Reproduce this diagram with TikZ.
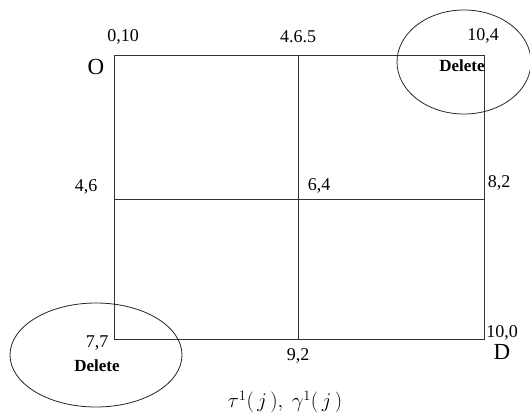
\documentclass[tikz,border=0pt]{standalone}
\usepackage{fontspec}
\setmainfont{Liberation Serif}
\usepackage{amsmath}
\usetikzlibrary{calc}

\begin{document}
\begin{tikzpicture}[x=1pt,y=-1pt,
  lbl/.style={font=\fontsize{18}{20}\selectfont,inner sep=0pt},
  pt/.style={font=\fontsize{23}{26}\selectfont,inner sep=0pt},
  del/.style={font=\fontsize{17}{19}\selectfont\bfseries,inner sep=0pt},
  grid/.style={line width=0.8pt,black!80},
  ring/.style={line width=0.8pt,black!85}]
\useasboundingbox (0,0) rectangle (530,416);
\def\xl{114}
\def\xm{298}
\def\xr{484}
\def\yt{55}
\def\ym{199}
\def\yb{339}
\coordinate (TL) at (\xl,\yt);
\coordinate (TM) at (\xm,\yt);
\coordinate (TR) at (\xr,\yt);
\coordinate (ML) at (\xl,\ym);
\coordinate (MM) at (\xm,\ym);
\coordinate (MR) at (\xr,\ym);
\coordinate (BL) at (\xl,\yb);
\coordinate (BM) at (\xm,\yb);
\coordinate (BR) at (\xr,\yb);

\node[lbl] (tl) at (123,37) {0,10};
\node[pt] (o) at (96,67) {O};
\node[lbl] (tm) at (298,37) {4.6.5};
\node[lbl] (tr) at (483,36) {10,4};
\node[del] (deltr) at (462,66) {Delete};
\node[lbl] (ml) at (86,187) {4,6};
\node[lbl] (mm) at (319,186) {6,4};
\node[lbl] (mr) at (499,183) {8,2};
\node[lbl] (bl) at (97,343) {7,7};
\node[del] (delbl) at (97,366) {Delete};
\node[lbl] (bm) at (298,356) {9,2};
\node[lbl] (br) at (502,333) {10,0};
\node[pt] (d) at (502,352) {D};
\node[font=\fontsize{20}{22}\selectfont,inner sep=0pt] (cap) at (285,402) {$\tau^{1}(\,j\,),\ \gamma^{1}(\,j\,)$};

\draw[grid]
  (TL) -- (TR) -- (BR) -- (BL) -- cycle;
\draw[grid] (TM) -- (BM);
\draw[grid] (ML) -- (MR);

\draw[ring] (464,62) ellipse (67 and 52);
\draw[ring] (96,355) ellipse (86 and 52);

\end{tikzpicture}
\end{document}
